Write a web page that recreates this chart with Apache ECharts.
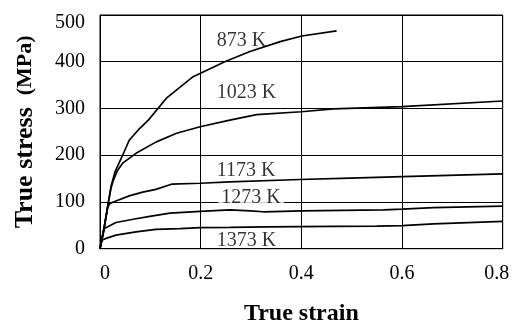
<!DOCTYPE html>
<html>
<head>
<meta charset="utf-8">
<script src="https://cdn.jsdelivr.net/npm/echarts@6/dist/echarts.min.js"></script>
<style>
html,body{margin:0;padding:0;background:#fff;}
#c{width:518px;height:323px;}
</style>
</head>
<body>
<div id="c"></div>
<script>
// Temperatures (series names)
const temps = ['873 K', '1023 K', '1173 K', '1273 K', '1373 K'];

// 873 K
const strain873 = [0, 0.0086, 0.0152, 0.0219, 0.030, 0.045, 0.058, 0.076, 0.096, 0.132, 0.185, 0.250, 0.298, 0.358, 0.401, 0.470];
const stress873 = [0, 47, 90, 133, 165, 200, 232, 254, 275, 322, 368, 401, 422, 443, 455, 466];

// 1023 K
const strain1023 = [0, 0.0086, 0.0152, 0.0219, 0.026, 0.035, 0.045, 0.0715, 0.111, 0.152, 0.199, 0.258, 0.311, 0.40, 0.464, 0.600, 0.80];
const stress1023 = [0, 47, 90, 130, 145, 168, 183, 204, 228, 247, 261, 275, 287, 293, 299, 304, 316];

// 1173 K
const strain1173 = [0, 0.0086, 0.0152, 0.0199, 0.0318, 0.058, 0.0848, 0.111, 0.142, 0.199, 0.258, 0.397, 0.497, 0.601, 0.80];
const stress1173 = [0, 47, 88, 97, 102, 113, 121, 127, 138, 140, 143, 148, 151, 154, 160];

// 1273 K
const strain1273 = [0, 0.0086, 0.0318, 0.0715, 0.099, 0.139, 0.199, 0.258, 0.298, 0.324, 0.40, 0.563, 0.60, 0.662, 0.80];
const stress1273 = [0, 43, 56, 64, 69, 76, 80, 83, 81, 79, 81, 83, 84.5, 88, 91];

// 1373 K
const strain1373 = [0, 0.0033, 0.0119, 0.0318, 0.0715, 0.111, 0.159, 0.199, 0.258, 0.331, 0.464, 0.55, 0.60, 0.662, 0.80];
const stress1373 = [0, 18, 22, 29, 36, 41.5, 43, 45, 45.5, 46.5, 47.8, 48.5, 49.5, 53, 58.5];

// Curve label anchor points (strain, stress)
const labelStrain = [0.232, 0.232, 0.232, 0.235, 0.232];
const labelStress = [445, 334, 167, 109, 17];

// Axis ticks
const xTicks = [0, 0.2, 0.4, 0.6, 0.8];
const yTicks = [0, 100, 200, 300, 400, 500];

const strains = [strain873, strain1023, strain1173, strain1273, strain1373];
const stresses = [stress873, stress1023, stress1173, stress1273, stress1373];

const FONT = 'Liberation Serif';

const lineSeries = temps.map((t, i) => ({
  name: t,
  type: 'line',
  data: strains[i].map((s, j) => [s, stresses[i][j]]),
  showSymbol: false,
  symbol: 'none',
  smooth: false,
  lineStyle: { color: '#000', width: 1.7 },
  z: 3
}));

const labelSeries = {
  type: 'scatter',
  symbolSize: 0,
  silent: true,
  z: 5,
  data: temps.map((t, i) => ({
    name: t,
    value: [labelStrain[i], labelStress[i]],
    label: t === '1273 K' ? { backgroundColor: '#fff', padding: [0, 3, 0, 3] } : {}
  })),
  label: {
    show: true,
    position: 'right',
    distance: 0,
    formatter: p => p.name,
    color: '#000',
    fontFamily: FONT,
    fontSize: 20
  }
};

const chart = echarts.init(document.getElementById('c'), null, { renderer: 'canvas' });
chart.setOption({
  animation: false,
  backgroundColor: '#fff',
  grid: {
    left: 100, top: 15, right: 15.3, bottom: 74.3,
    show: true, borderColor: '#000', borderWidth: 1,
    containLabel: false, outerBoundsMode: 'none'
  },
  xAxis: {
    type: 'value',
    min: xTicks[0],
    max: xTicks[xTicks.length - 1],
    interval: 0.2,
    name: 'True strain',
    nameLocation: 'middle',
    nameGap: 53,
    nameTextStyle: { fontFamily: FONT, fontSize: 24, fontWeight: 'bold', color: '#000' },
    axisLine: { show: true, lineStyle: { color: '#000', width: 1 } },
    axisTick: { show: false },
    splitLine: { show: true, lineStyle: { color: '#000', width: 1 } },
    axisLabel: {
      margin: 15,
      color: '#000',
      fontFamily: FONT,
      fontSize: 20,
      formatter: v => {
        if (v === 0) return '{l|0}';
        if (Math.abs(v - 0.8) < 1e-9) return '{r|0.8}';
        return String(+v.toFixed(1));
      },
      rich: {
        l: { padding: [0, 0, 0, 10], fontFamily: FONT, fontSize: 20, color: '#000' },
        r: { padding: [0, 12, 0, 0], fontFamily: FONT, fontSize: 20, color: '#000' }
      }
    }
  },
  yAxis: {
    type: 'value',
    min: yTicks[0],
    max: yTicks[yTicks.length - 1],
    interval: 100,
    name: '{a|True stress}  {b|(MPa)}',
    nameLocation: 'middle',
    nameGap: 62,
    nameTextStyle: {
      fontFamily: FONT, fontSize: 24, fontWeight: 'bold', color: '#000',
      rich: {
        a: { fontFamily: FONT, fontSize: 26, fontWeight: 'bold', color: '#000' },
        b: { fontFamily: FONT, fontSize: 22, fontWeight: 'bold', color: '#000' }
      }
    },
    axisLine: { show: true, lineStyle: { color: '#000', width: 1 } },
    axisTick: { show: false },
    splitLine: { show: true, lineStyle: { color: '#000', width: 1 } },
    axisLabel: {
      margin: 15,
      color: '#000',
      fontFamily: FONT,
      fontSize: 20,
      formatter: v => v === 500 ? '{t|500}' : String(v),
      rich: {
        t: { padding: [16, 0, 0, 0], fontFamily: FONT, fontSize: 20, color: '#000' }
      }
    }
  },
  series: [...lineSeries, labelSeries]
});
</script>
</body>
</html>
